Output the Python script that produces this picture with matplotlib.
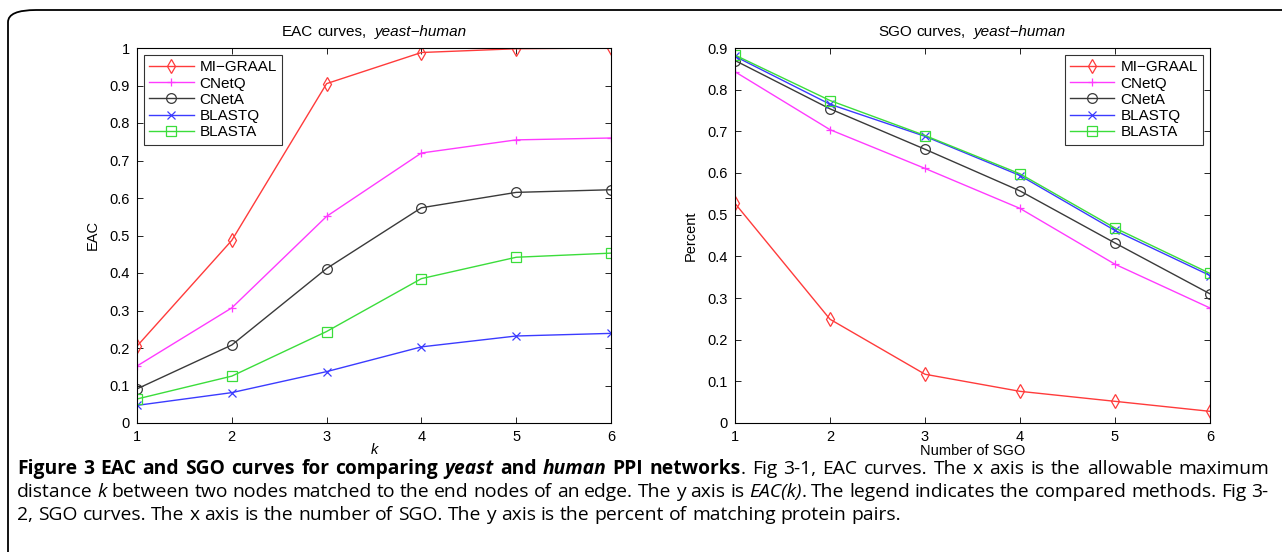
import re
import matplotlib
matplotlib.use("Agg")
import matplotlib.pyplot as plt
from matplotlib.patches import FancyBboxPatch
import numpy as np

# x positions
k_vals = [1, 2, 3, 4, 5, 6]
methods = ["MI\u2212GRAAL", "CNetQ", "CNetA", "BLASTQ", "BLASTA"]

# EAC curves (left)
eac_migraal = [0.205, 0.487, 0.905, 0.988, 0.998, 1.0]
eac_cnetq = [0.152, 0.307, 0.551, 0.720, 0.755, 0.760]
eac_cneta = [0.091, 0.208, 0.412, 0.574, 0.615, 0.622]
eac_blastq = [0.047, 0.081, 0.137, 0.203, 0.232, 0.239]
eac_blasta = [0.064, 0.125, 0.244, 0.385, 0.442, 0.453]

# SGO curves (right)
sgo_migraal = [0.527, 0.249, 0.117, 0.076, 0.052, 0.028]
sgo_cnetq = [0.843, 0.704, 0.611, 0.515, 0.381, 0.276]
sgo_cneta = [0.870, 0.754, 0.657, 0.557, 0.432, 0.310]
sgo_blastq = [0.880, 0.765, 0.688, 0.594, 0.462, 0.354]
sgo_blasta = [0.883, 0.774, 0.690, 0.598, 0.468, 0.359]

colors = ["#ff3b3b", "#ff3bff", "#3a3a3a", "#3b3bff", "#3bdd3b"]
markers = ["d", "+", "o", "x", "s"]

plt.rcParams["font.family"] = ["Liberation Sans", "DejaVu Sans"]

W, H = 1282, 552
fig = plt.figure(figsize=(W / 100, H / 100), dpi=100)
renderer = fig.canvas.get_renderer()

# rounded frame around the whole figure (runs off the right/bottom edge)
box = FancyBboxPatch((8 / W, -0.2), 1.2, 1.2 - 10 / H,
                     boxstyle="round,pad=0,rounding_size=0.022",
                     transform=fig.transFigure, fill=False,
                     edgecolor="black", linewidth=1.3)
fig.patches.append(box)


def text_width(txt, size, w, st, family):
    t = fig.text(0, 0, txt, fontsize=size, fontweight=w, fontstyle=st,
                 family=family)
    wd = t.get_window_extent(renderer=renderer).width
    t.remove()
    return wd


def place_runs(x, y, runs, size, family, center=False, right=None):
    # draw text pieces with mixed styles one after another;
    # if right is given, stretch the spaces so the line ends there
    tokens = []
    for txt, w, st in runs:
        for part in re.split(r"( )", txt):
            if part:
                tokens.append((part, w, st))
    widths = []
    for part, w, st in tokens:
        if part == " ":
            widths.append(text_width("a a", size, w, st, family)
                          - text_width("aa", size, w, st, family))
        else:
            widths.append(text_width(part, size, w, st, family))
    total = sum(widths)
    n_sp = sum(1 for p, _, _ in tokens if p == " ")
    extra = (right - x - total) / n_sp if (right and n_sp) else 0
    start = x - total / 2 if center else x
    for (part, w, st), wd in zip(tokens, widths):
        if part == " ":
            start += wd + extra
            continue
        fig.text(start / W, 1 - y / H, part, fontsize=size, fontweight=w,
                 fontstyle=st, family=family, va="center", ha="left")
        start += wd


def style_ax(ax, ymax, yticks):
    ax.set_xlim(1, 6)
    ax.set_ylim(0, ymax)
    ax.set_xticks(k_vals)
    ax.set_yticks(yticks)
    ax.set_yticklabels([("%g" % t) for t in yticks])
    ax.tick_params(direction="in", top=True, right=True, labelsize=10.5,
                   length=4, width=0.6, pad=5)
    for s in ax.spines.values():
        s.set_linewidth(0.8)


def draw(ax, series):
    for ys, name, c, m in zip(series, methods, colors, markers):
        ms = 7 if m in ("d", "s", "o") else 6
        ax.plot(k_vals, ys, color=c, marker=m, markerfacecolor="none",
                markeredgecolor=c, markersize=ms, linewidth=1.0,
                markeredgewidth=0.9, label=name)


def add_legend(ax, loc):
    leg = ax.legend(loc=loc, fontsize=11, fancybox=False, edgecolor="black",
                    handlelength=2.9, handletextpad=0.4, borderaxespad=0.45,
                    labelspacing=0.15, borderpad=0.35)
    leg.get_frame().set_linewidth(0.8)


ax_b = 1 - 423 / H
ax_h = (423 - 48) / H

ax1 = fig.add_axes([137 / W, ax_b, (611 - 137) / W, ax_h])
draw(ax1, [eac_migraal, eac_cnetq, eac_cneta, eac_blastq, eac_blasta])
style_ax(ax1, 1.0, np.arange(0, 1.01, 0.1).round(1))
ax1.set_xlabel("k", style="italic", fontsize=10.5, labelpad=-1)
ax1.set_ylabel("EAC", fontsize=10.5, labelpad=7)
add_legend(ax1, "upper left")

ax2 = fig.add_axes([735 / W, ax_b, (1210 - 735) / W, ax_h])
draw(ax2, [sgo_migraal, sgo_cnetq, sgo_cneta, sgo_blastq, sgo_blasta])
style_ax(ax2, 0.9, np.arange(0, 0.91, 0.1).round(1))
ax2.set_xlabel("Number of SGO", fontsize=10.5, labelpad=0)
ax2.set_ylabel("Percent", fontsize=10.5, labelpad=7)
add_legend(ax2, "upper right")

# titles with an italic species part
title_font = ["Liberation Sans", "DejaVu Sans"]
place_runs((137 + 611) / 2, 32, [("EAC curves,  ", "normal", "normal"),
                                 ("yeast\u2212human", "normal", "italic")],
           11, title_font, center=True)
place_runs((735 + 1210) / 2, 32, [("SGO curves,  ", "normal", "normal"),
                                  ("yeast\u2212human", "normal", "italic")],
           11, title_font, center=True)

# caption, built from styled runs (first two lines justified)
cap_font = ["Open Sans", "DejaVu Sans"]
lines = [
    [("Figure 3 EAC and SGO curves for comparing ", "bold", "normal"),
     ("yeast", "bold", "italic"), (" and ", "bold", "normal"),
     ("human", "bold", "italic"), (" PPI networks", "bold", "normal"),
     (". Fig 3-1, EAC curves. The x axis is the allowable maximum", "normal", "normal")],
    [("distance ", "normal", "normal"), ("k", "normal", "italic"),
     (" between two nodes matched to the end nodes of an edge. The y axis is ", "normal", "normal"),
     ("EAC(k)", "normal", "italic"),
     (". The legend indicates the compared methods. Fig 3-", "normal", "normal")],
    [("2, SGO curves. The x axis is the number of SGO. The y axis is the percent of matching protein pairs.", "normal", "normal")],
]
line_y = [469, 492, 515]
line_end = [1269, 1268, None]
for runs, yp, re_ in zip(lines, line_y, line_end):
    place_runs(17, yp, runs, 13.9, cap_font, right=re_)

fig.savefig("out.png", dpi=100)
